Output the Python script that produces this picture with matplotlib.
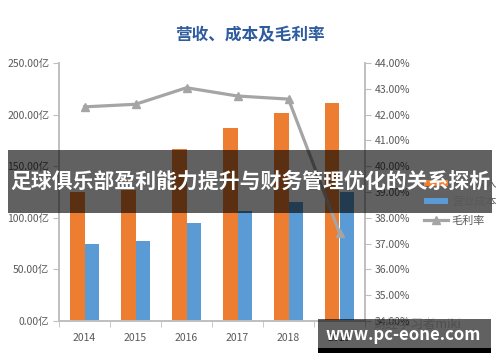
import numpy as np
from matplotlib import pyplot as plt
from matplotlib.patches import Rectangle
from matplotlib.ticker import FuncFormatter

plt.rcParams['font.family'] = ['Noto Sans CJK SC', 'DejaVu Sans']

# Data:

years = ['2014', '2015', '2016', '2017', '2018', '2019']
revenue = np.array([125, 127, 167, 187, 202, 211])            # 营业收入, 亿
cost = np.array([74.6, 77.8, 94.7, 106.6, 115.6, 124.7])       # 营业成本, 亿
margin = np.array([42.3, 42.4, 43.04, 42.72, 42.6, 37.42])     # 毛利率, %

title = '营收、成本及毛利率'
banner = '足球俱乐部盈利能力提升与财务管理优化的关系探析'
site = 'www.pc-eone.com'

fig = plt.figure(figsize=(5, 3.62), dpi=100)
ax = fig.add_axes([0.118, 0.1133, 0.612, 0.7127])
ax2 = ax.twinx()

x = np.arange(len(years))
w = 0.284
axis_col = '#BFBFBF'
text_col = '#595959'

b1 = ax.bar(x - w / 2, revenue, w, color='#ED7D31', label='营业收入')
b2 = ax.bar(x + w / 2, cost, w, color='#5B9BD5', label='营业成本')
l1, = ax2.plot(x, margin, color='#A5A5A5', lw=2.3, marker='^', ms=5.5, label='毛利率')

ax.set_xlim(-0.5, 5.5)
ax.set_ylim(0, 250)
ax.set_yticks(np.arange(0, 251, 50))
ax.yaxis.set_major_formatter(FuncFormatter(lambda v, p: '%.2f亿' % v))
ax2.set_ylim(34, 44)
ax2.set_yticks(np.arange(34, 44.1, 1))
ax2.yaxis.set_major_formatter(FuncFormatter(lambda v, p: '%.2f%%' % v))

ax.set_xticks(x)
ax.set_xticklabels(years)
ax.set_xticks(np.arange(-0.5, 5.6, 1), minor=True)
ax.tick_params(axis='x', which='major', length=0, pad=9, labelsize=7.5, labelcolor=text_col)
ax.tick_params(axis='x', which='minor', length=4, color=axis_col)
ax.tick_params(axis='y', length=4, color=axis_col, labelsize=7.5, labelcolor=text_col, pad=3)
ax2.tick_params(axis='y', length=4, color=axis_col, labelsize=7.5, labelcolor=text_col, pad=3)

for a in (ax, ax2):
    a.spines['top'].set_visible(False)
    for s in ('left', 'right', 'bottom'):
        a.spines[s].set_color(axis_col)
        a.spines[s].set_linewidth(1.2)

fig.text(0.5, 0.903, title, ha='center', va='center', fontsize=12, fontweight='bold', color='#2E5C9E')

fig.legend([b1, b2, l1], ['营业收入', '营业成本', '毛利率'], loc='center left',
           bbox_to_anchor=(0.828, 0.442), frameon=False, fontsize=8,
           labelcolor=text_col, handlelength=2.2, handleheight=0.45,
           handletextpad=0.3, labelspacing=0.75)

# banner over the chart
fig.add_artist(Rectangle((0.016, 0.412), 0.968, 0.174, transform=fig.transFigure,
                         facecolor='black', alpha=0.62, edgecolor='none', zorder=5))
fig.text(0.5, 0.5, banner, ha='center', va='center', fontsize=15, fontweight='bold',
         color='white', zorder=6)

# watermark bottom right
fig.text(0.835, 0.103, '财经学习者miki', ha='center', va='center', fontsize=9,
         color='#D0D0D0', zorder=4)
fig.add_artist(Rectangle((0.636, 0.025), 0.346, 0.094, transform=fig.transFigure,
                         facecolor='black', alpha=0.62, edgecolor='none', zorder=5))
fig.add_artist(Rectangle((0.636, 0.025), 0.346, 0.014, transform=fig.transFigure,
                         facecolor='black', edgecolor='none', zorder=6))
fig.text(0.807, 0.075, site, ha='center', va='center', fontsize=12, fontweight='bold',
         color='white', zorder=7)

fig.savefig('out.png', dpi=100)
